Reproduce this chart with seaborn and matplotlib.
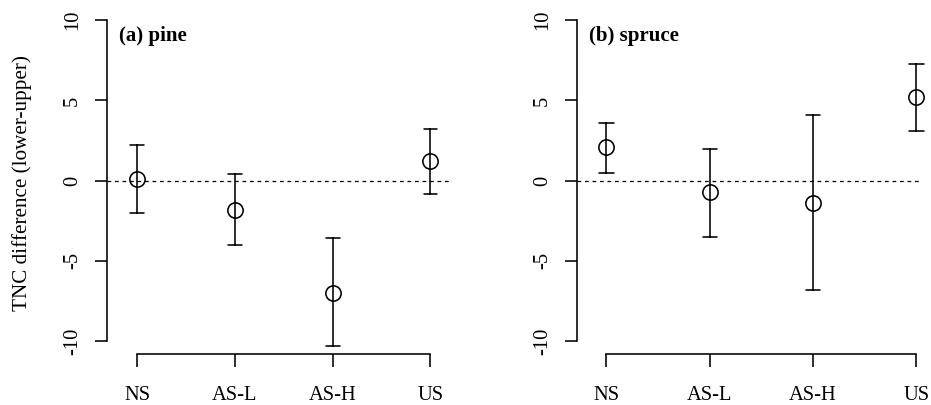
import matplotlib
matplotlib.use("Agg")
import matplotlib.pyplot as plt
import numpy as np
import pandas as pd
import seaborn as sns

# Treatment groups along the x axis
groups = ["NS", "AS-L", "AS-H", "US"]

# Pine: mean TNC difference with lower / upper interval bounds
pine_mean = [0.1, -1.8, -7.0, 1.2]
pine_lo = [-2.0, -4.0, -10.3, -0.8]
pine_hi = [2.2, 0.4, -3.6, 3.2]

# Spruce: mean TNC difference with lower / upper interval bounds
spruce_mean = [2.1, -0.7, -1.4, 5.2]
spruce_lo = [0.5, -3.5, -6.8, 3.1]
spruce_hi = [3.6, 2.0, 4.1, 7.3]

panel_titles = ["(a) pine", "(b) spruce"]
y_ticks = [-10, -5, 0, 5, 10]
y_label = "TNC difference (lower-upper)"

sns.set_theme(style="white")
plt.rcParams["font.family"] = ["Liberation Serif", "DejaVu Serif"]
plt.rcParams["axes.linewidth"] = 1.15
plt.rcParams["text.color"] = "black"
plt.rcParams["axes.labelcolor"] = "black"
plt.rcParams["axes.edgecolor"] = "black"


def long_table(mean, lo, hi):
    # three rows per group: the median is the mean, min/max are the bounds
    rows = []
    for g, m, a, b in zip(groups, mean, lo, hi):
        for v in (a, m, b):
            rows.append({"group": g, "value": v})
    return pd.DataFrame(rows)


W, H = 931, 405
fig = plt.figure(figsize=(W / 100, H / 100), dpi=100)

ax_top, ax_bot = 7.4, 354.0
axes_px = [(107.0, 451.0, (-0.31, 3.21)), (577.0, 919.0, (-0.285, 3.025))]
panels = [(pine_mean, pine_lo, pine_hi), (spruce_mean, spruce_lo, spruce_hi)]

for i, ((x0, x1, xl), (m, lo, hi)) in enumerate(zip(axes_px, panels)):
    ax = fig.add_axes([x0 / W, 1 - ax_bot / H, (x1 - x0) / W, (ax_bot - ax_top) / H])
    df = long_table(m, lo, hi)
    sns.pointplot(
        data=df, x="group", y="value", order=groups, ax=ax,
        estimator="median", errorbar=lambda v: (v.min(), v.max()),
        color="black", markers="o", linestyles="none",
        markersize=11, markeredgewidth=1.15, markerfacecolor="none",
        capsize=0.14, err_kws={"linewidth": 1.15, "color": "black"},
    )
    for artist in ax.lines:
        artist.set_clip_on(False)
    ax.axhline(0, color="black", lw=0.9, ls=(0, (3, 3)), zorder=0)

    ax.set_xlim(*xl)
    ax.set_ylim(-10.8, 10.8)
    ax.set_yticks(y_ticks)
    ax.set_yticklabels([str(t) for t in y_ticks], rotation=90, va="center")
    ax.set_xlabel("")
    ax.set_ylabel("")

    for s in ("top", "right"):
        ax.spines[s].set_visible(False)
    ax.spines["left"].set_bounds(-10, 10)
    ax.spines["bottom"].set_bounds(0, 3)
    ax.tick_params(axis="both", direction="out", length=9, width=1.15,
                   colors="black", labelsize=14.8, left=True, bottom=True)
    ax.tick_params(axis="y", pad=9)
    ax.tick_params(axis="x", pad=14)
    ax.grid(False)

    ax.text(0.035, 0.903, panel_titles[i], transform=ax.transAxes,
            fontsize=15, fontweight="bold", ha="left", va="baseline",
            color="black")

    if i == 0:
        ax.text(-0.247, 0.492, y_label, transform=ax.transAxes, rotation=90,
                ha="center", va="center", fontsize=15.2, color="black")

fig.savefig("out.png", dpi=100, facecolor="white")
